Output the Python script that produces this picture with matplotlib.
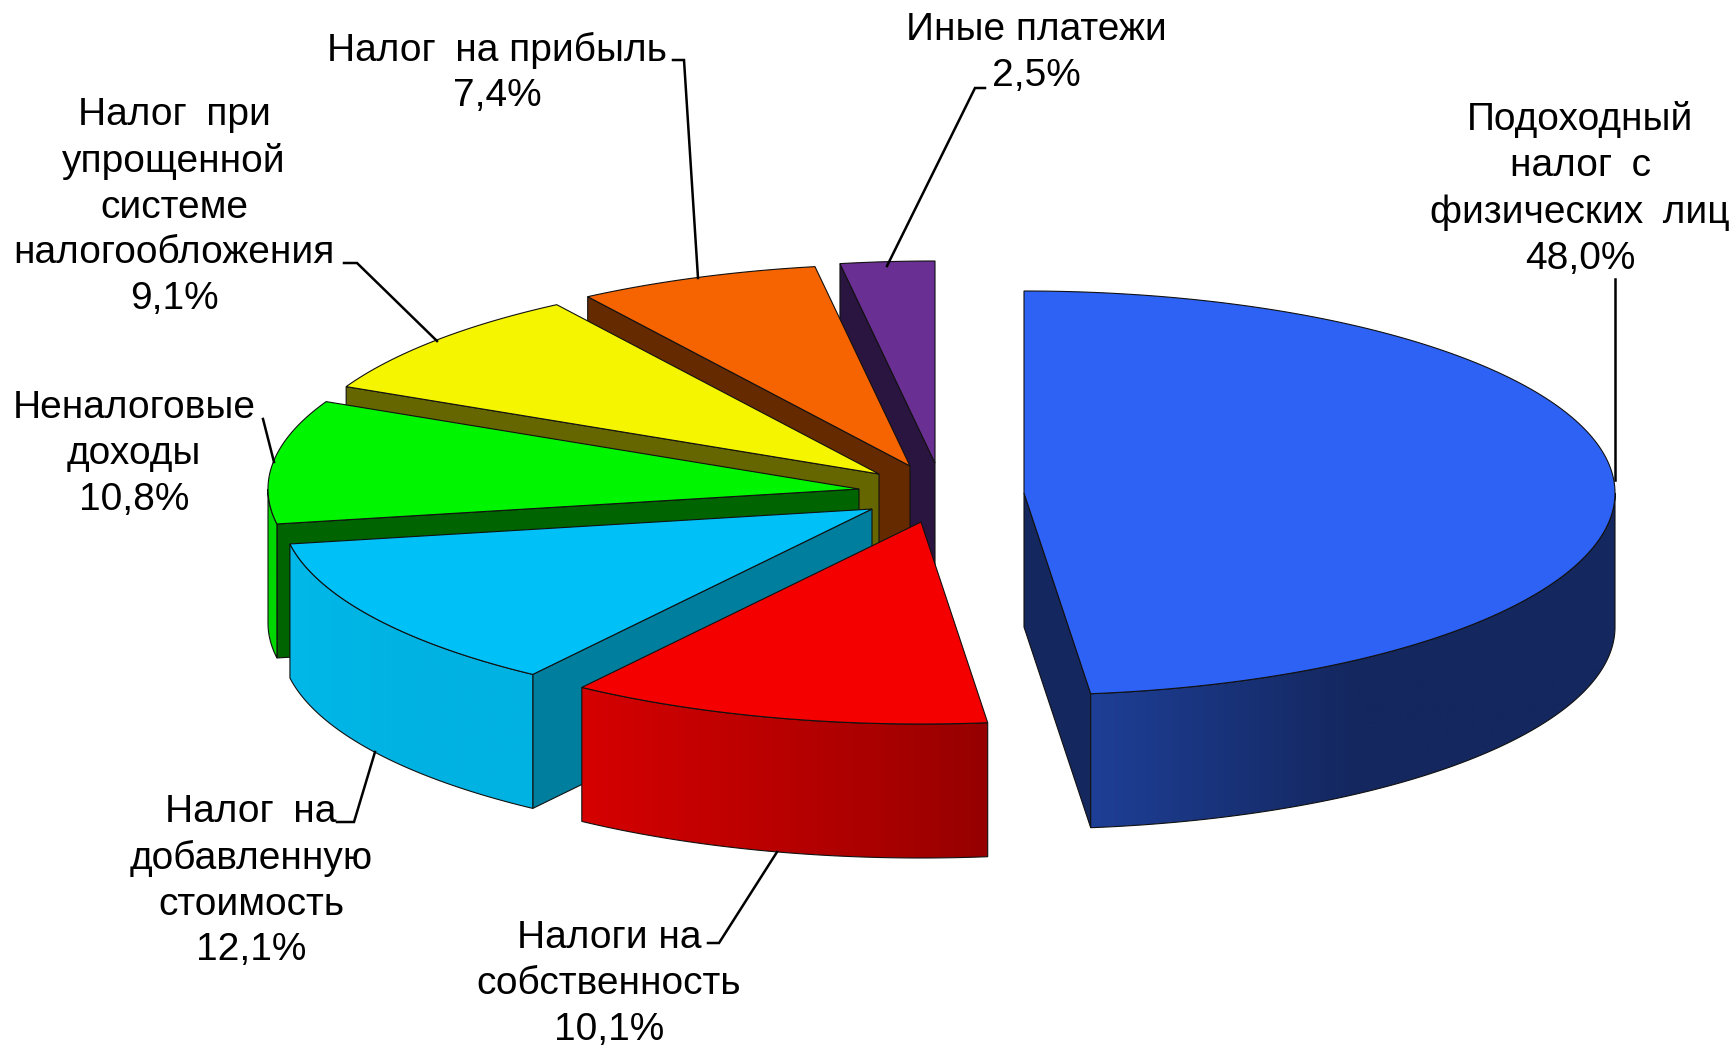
import numpy as np
import matplotlib
matplotlib.use('Agg')
import matplotlib.pyplot as plt
from matplotlib.colors import LinearSegmentedColormap
from matplotlib.patches import Polygon

plt.rcParams['font.family'] = ['Liberation Sans', 'DejaVu Sans']

# Slices in clockwise order, starting from 12 o'clock
categories = ['Подоходный\nналог\u2002с\nфизических\u2002лиц', 'Налоги на\nсобственность', 'Налог\u2002на\nдобавленную\nстоимость',
              'Неналоговые\nдоходы', 'Налог\u2002при\nупрощенной\nсистеме\nналогообложения', 'Налог\u2002на прибыль', 'Иные платежи']
values = [48.0, 10.1, 12.1, 10.8, 9.1, 7.4, 2.5]

# The drawn slices are not quite proportional to the labels, these are the shares as drawn
drawn_shares = [48.2, 11.53, 12.5, 9.89, 8.7, 6.61, 2.57]

top_colors = ['#2E62F5', '#F50000', '#00C0F8', '#00F500', '#F5F500', '#F56400', '#6A2F92']
face_colors = ['#14275F', '#7A0000', '#007E9E', '#006400', '#666600', '#662A00', '#2A1440']
rim_colors = [['#1E3F96', '#14275F', '#14275F'], ['#D60000', '#C60000', '#B80000', '#A80000', '#960000'], ['#00B8E8', '#00B2E2', '#00B2E2'],
              ['#00D800', '#00D800'], ['#C8C800', '#C8C800'], ['#C85000', '#C85000'], ['#552577', '#552577']]

# Pixel layout of the exploded pie
centers = [(1024, 493), (921, 522), (872, 509), (859, 489), (879, 474), (910, 466), (935, 463)]
rx = 591
ry = 202
depth = 134

label_pos = [(1580, 189), (609, 984), (251, 881), (134, 454), (174, 207), (497, 73), (1036, 53)]
leaders = [[(1615, 279), (1615, 480)],
           [(708, 943), (719, 943), (777, 852)],
           [(337, 822), (354, 822), (375, 752)],
           [(263, 419), (274, 462)],
           [(344, 263), (357, 263), (437, 341)],
           [(673, 60), (684, 60), (698, 278)],
           [(985, 88), (975, 88), (887, 266)]]


def rim(center, t1, t2, n=200):
    t = np.radians(np.linspace(t1, t2, n))
    return np.column_stack([center[0] + rx * np.sin(t), center[1] - ry * np.cos(t)])


fig = plt.figure(figsize=(17.35, 10.45), dpi=100)
ax = fig.add_axes([0, 0, 1, 1])
ax.set_axis_off()

bounds = np.concatenate([[0], np.cumsum(drawn_shares)]) / sum(drawn_shares) * 360

for i in range(len(values) - 1, -1, -1):
    c = centers[i]
    t1, t2 = bounds[i], bounds[i + 1]
    drop = np.array([0, depth])

    # cut faces, only the ones turned towards the viewer
    for t, side in [(t1, -1), (t2, 1)]:
        if side * np.sin(np.radians(t)) > 1e-6:
            p = rim(c, t, t, 1)[0]
            ax.add_patch(Polygon([c, p, p + drop, np.array(c) + drop], facecolor=face_colors[i], edgecolor='#111111', linewidth=0.8, zorder=i * -10))

    # outer wall on the front half of the ellipse
    a, b = max(t1, 90), min(t2, 270)
    if b > a:
        arc = rim(c, a, b)
        wall = Polygon(np.vstack([arc, (arc + drop)[::-1]]), facecolor='none', edgecolor='#111111', linewidth=0.8, zorder=i * -10 + 1)
        ax.add_patch(wall)
        cmap = LinearSegmentedColormap.from_list('rim%d' % i, rim_colors[i])
        x0, x1 = arc[:, 0].min(), arc[:, 0].max()
        grad = np.linspace(0, 1, 256).reshape(1, -1)
        img = ax.imshow(grad, cmap=cmap, aspect='auto',
                        extent=(x0, x1, arc[:, 1].max() + depth, arc[:, 1].min()), zorder=i * -10 + 0.5)
        img.set_clip_path(wall)

    # top of the slice
    ax.add_patch(Polygon(np.vstack([[c], rim(c, t1, t2)]), facecolor=top_colors[i], edgecolor='#111111', linewidth=0.8, zorder=i * -10 + 2))

for i in range(len(values)):
    xs, ys = zip(*leaders[i])
    ax.plot(xs, ys, color='black', linewidth=1.8, solid_joinstyle='miter', zorder=5)
    text = categories[i] + '\n' + f'{values[i]:.1f}'.replace('.', ',') + '%'
    ax.text(label_pos[i][0], label_pos[i][1], text, ha='center', va='center', ma='center', fontsize=28, linespacing=1.35, color='black', zorder=6)

ax.set_xlim(0, 1735)
ax.set_ylim(1045, 0)

fig.savefig('out.png', dpi=100, facecolor='white')
